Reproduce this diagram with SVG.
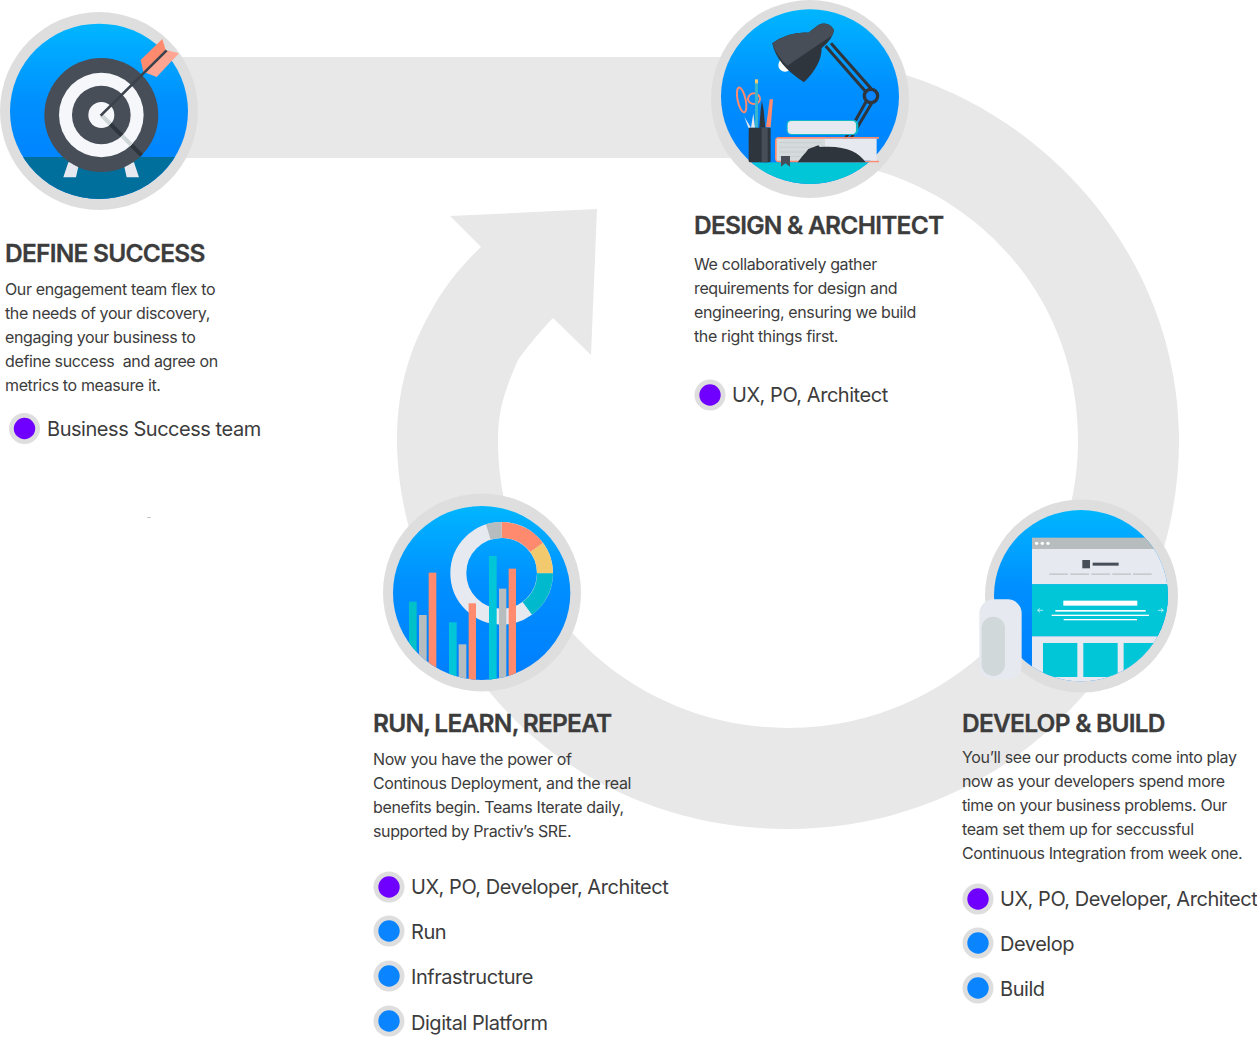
<svg xmlns="http://www.w3.org/2000/svg" width="1257" height="1047" viewBox="0 0 1257 1047">
<style>
text{font-family:Inter,"Noto Sans","Liberation Sans",sans-serif;fill:#3c3c3c}
.h{font-size:24.5px;font-weight:600;letter-spacing:-.75px;stroke:#3c3c3c;stroke-width:.3px}
.b{font-size:16px;letter-spacing:-.37px}
.l{font-size:20px;letter-spacing:-.46px}
.halo{fill:#dedede}
.p{fill:#6f00ff}
.u{fill:#0a84ff}
.d{fill:#2e353d}
.e{fill:#e6e9ef}
.t{fill:#00c6d8}
.o{fill:#ff8a6e}
.g{fill:#b7bdbf}
</style>
<defs>
<linearGradient id="sky" x1="0" y1="0" x2="0" y2="1"><stop offset="0" stop-color="#00b6ff"/><stop offset=".45" stop-color="#008fff"/><stop offset="1" stop-color="#007eff"/></linearGradient>
<clipPath id="c1"><ellipse cx="297" cy="334" rx="267" ry="263"/></clipPath>
<clipPath id="c2"><ellipse cx="315" cy="290" rx="267" ry="262"/></clipPath>
<clipPath id="c3"><ellipse cx="320" cy="309" rx="266" ry="261"/></clipPath>
<clipPath id="c4"><ellipse cx="333" cy="302" rx="261" ry="257"/></clipPath>
</defs>
<g id="connectors">
<path id="loop" fill="#e8e8e8" d="M180,57H790C1000,57 1179,230 1179,440C1179,655 1005,829 788,829C620,829 490,730 440,610C410,550 397,490 397,440C397,385 412,345 430,313C445,285 462,265 481,247L450,216L597,209L591,355L553,318C535,337 525,350 518,360C505,390 498,410 498,440C498,600 628,728 788,728C948,728 1078,600 1078,440C1078,280 950,158 790,158H180Z"/>
</g>
<g id="define-success">
<circle class="halo" cx="99" cy="111" r="99"/>
<g transform="scale(.3333)">
<ellipse cx="297" cy="334" rx="267" ry="263" fill="url(#sky)"/>
<g clip-path="url(#c1)"><rect x="0" y="471" width="600" height="140" fill="#006f9c"/></g>
<path class="e" d="M205,487H238L228,532H190ZM370,487H402L417,532H380Z"/>
<circle cx="304" cy="345" r="171" fill="#474e58"/>
<circle cx="304" cy="345" r="127" fill="#f5f7fb"/>
<circle cx="304" cy="345" r="88" fill="#474e58"/>
<circle cx="304" cy="345" r="39" fill="#f5f7fb"/>
<path d="M331,372L366,407M394,435L425,466" stroke="#2e353d" stroke-width="12"/>
<path d="M304,345L331,372M366,407L394,435" stroke="#cfd6d8" stroke-width="12"/>
<path class="o" d="M422,180L487,117L497,150L440,215L430,215Z"/>
<path fill="#ffa592" d="M497,150L537,160L470,231L430,215Z"/>
<path d="M302,347L500,151" stroke="#3c424b" stroke-width="8"/>
</g>
<text class="h" x="5" y="262">DEFINE SUCCESS</text>
<text class="b" x="5" y="295">Our engagement team flex to</text>
<text class="b" x="5" y="319">the needs of your discovery,</text>
<text class="b" x="5" y="343">engaging your business to</text>
<text class="b" x="5" y="367" xml:space="preserve">define success  and agree on</text>
<text class="b" x="5" y="391">metrics to measure it.</text>
<circle class="halo" cx="24.500" cy="428.500" r="15.500"/><circle class="p" cx="24.500" cy="428.500" r="10.700"/>
<text class="l" x="47" y="436">Business Success team</text>
<rect x="147" y="517" width="4" height="1" fill="#c8c8c8"/>
</g>
<g id="design-architect">
<circle class="halo" cx="810" cy="99" r="99"/>
<g transform="translate(705,0) scale(.3333)">
<ellipse cx="315" cy="290" rx="267" ry="262" fill="url(#sky)"/>
<g clip-path="url(#c2)"><rect x="0" y="487" width="640" height="80" class="t"/></g>
<circle cx="240" cy="195" r="20" fill="#fff"/>
<path class="d" d="M202,130Q250,95 310,98L340,75Q370,62 387,90Q385,115 350,145Q350,195 297,247Q215,195 202,130Z"/>
<path fill="#474e58" d="M202,130Q250,95 310,98L340,75Q370,62 387,90L383,105L247,197Q215,170 202,130Z"/>
<path d="M362,138L485,278M378,130L500,268M483,305L405,445M500,310L420,445" stroke="#2e353d" stroke-width="9" fill="none"/>
<circle cx="498" cy="288" r="20" fill="#0a84ff" stroke="#2e353d" stroke-width="10"/>
<rect x="245" y="360" width="215" height="45" rx="14" fill="#12b8c8"/>
<rect x="248" y="363" width="205" height="39" rx="12" class="e"/>
<path d="M222,411H522V416H360V482H522V487H222Q210,487 210,475V423Q210,411 222,411Z" fill="#ff8a6e"/>
<rect x="360" y="416" width="155" height="66" class="e"/>
<rect x="215" y="416" width="145" height="66" fill="#d5dadc"/>
<path d="M222,428H352M222,442H352M222,456H352M222,470H352" stroke="#c2c8ca" stroke-width="2"/>
<path d="M228,500V468H255V500L241,490Z" fill="#474e58"/>
<path class="d" d="M278,487C290,470 305,455 310,447L340,436L345,441C420,435 460,455 482,487Z"/>
<g fill="none" stroke="#ff8a6e" stroke-width="6"><ellipse cx="110" cy="300" rx="12" ry="38" transform="rotate(-12 110 300)"/><ellipse cx="147" cy="296" rx="18" ry="16"/></g>
<path d="M118,350L138,383H130ZM145,340L150,383H138Z" fill="#e6e9ef"/>
<path d="M150,250L154,238L159,250V383H150Z" fill="#38b6cf"/>
<rect x="150" y="238" width="9" height="12" fill="#f2c96d"/>
<path d="M171,303L176,330L181,383H163L167,330Z" class="d"/>
<path d="M183,382L194,298H204L197,382Z" class="o"/>
<rect x="131" y="383" width="66" height="104" rx="4" class="d"/>
<rect x="170" y="383" width="18" height="104" fill="#474e58"/>
</g>
<text class="h" x="694" y="234">DESIGN &amp; ARCHITECT</text>
<text class="b" x="694" y="270">We collaboratively gather</text>
<text class="b" x="694" y="294">requirements for design and</text>
<text class="b" x="694" y="318">engineering, ensuring we build</text>
<text class="b" x="694" y="342">the right things first.</text>
<circle class="halo" cx="710" cy="395" r="15.500"/><circle class="p" cx="710" cy="395" r="10.700"/>
<text class="l" x="732" y="402">UX, PO, Architect</text>
</g>
<g id="run-learn-repeat">
<circle class="halo" cx="482" cy="592.500" r="99"/>
<g transform="translate(375,490) scale(.3333)">
<ellipse cx="320" cy="309" rx="266" ry="261" fill="url(#sky)"/>
<circle cx="380" cy="250" r="130" fill="none" stroke="#e6e9ef" stroke-width="48"/>
<path fill="#ff8a6e" d="M380,96A154,154 0 0 1 504,159L466,186A106,106 0 0 0 380,144Z"/>
<path fill="#f2c96d" d="M504,159A154,154 0 0 1 534,250H486A106,106 0 0 0 466,186Z"/>
<path fill="#00b9cc" d="M534,250A154,154 0 0 1 471,374L443,336A106,106 0 0 0 486,250Z"/>
<path fill="#b7bdbf" d="M333,103A154,154 0 0 1 380,96V144A106,106 0 0 0 347,149Z"/>
<g clip-path="url(#c3)">
<rect x="102" y="335" width="23" height="260" fill="#00c0c8"/>
<rect x="132" y="375" width="23" height="220" class="g"/>
<rect x="161" y="248" width="23" height="350" class="o"/>
<rect x="222" y="397" width="23" height="200" class="t"/>
<rect x="251" y="463" width="23" height="130" class="g"/>
<rect x="281" y="340" width="22" height="260" class="o"/>
<rect x="342" y="198" width="23" height="400" class="t"/>
<rect x="372" y="296" width="22" height="300" class="g"/>
<rect x="401" y="236" width="22" height="360" class="o"/>
</g>
</g>
<text class="h" x="373" y="732" style="word-spacing:-1px">RUN, LEARN, REPEAT</text>
<text class="b" x="373" y="765">Now you have the power of</text>
<text class="b" x="373" y="789">Continous Deployment, and the real</text>
<text class="b" x="373" y="813">benefits begin. Teams Iterate daily,</text>
<text class="b" x="373" y="837">supported by Practiv’s SRE.</text>
<circle class="halo" cx="389" cy="887" r="15.500"/><circle class="p" cx="389" cy="887" r="10.700"/>
<text class="l" x="411" y="894">UX, PO, Developer, Architect</text>
<circle class="halo" cx="389" cy="931" r="15.500"/><circle class="u" cx="389" cy="931" r="10.700"/>
<text class="l" x="411" y="939">Run</text>
<circle class="halo" cx="389" cy="976" r="15.500"/><circle class="u" cx="389" cy="976" r="10.700"/>
<text class="l" x="411" y="984">Infrastructure</text>
<circle class="halo" cx="389" cy="1021" r="15.500"/><circle class="u" cx="389" cy="1021" r="10.700"/>
<text class="l" x="411" y="1030">Digital Platform</text>
</g>
<g id="develop-build">
<circle class="halo" cx="1081.500" cy="596" r="96.500"/>
<g transform="translate(970,495) scale(.3333)">
<ellipse cx="333" cy="302" rx="261" ry="257" fill="url(#sky)"/>
<g clip-path="url(#c4)">
<rect x="186" y="128" width="420" height="34" class="g"/>
<rect x="186" y="162" width="420" height="106" class="e"/>
<rect x="186" y="268" width="420" height="156" class="t"/>
<rect x="186" y="424" width="420" height="150" class="e"/>
<rect x="219" y="444" width="103" height="102" class="t"/>
<rect x="340" y="444" width="103" height="102" class="t"/>
<rect x="461" y="444" width="103" height="102" class="t"/>
</g>
<g fill="#fff"><circle cx="200" cy="145" r="5"/><circle cx="217" cy="145" r="5"/><circle cx="234" cy="145" r="5"/>
<rect x="280" y="317" width="222" height="15"/><rect x="256" y="345" width="271" height="5"/><rect x="245" y="359" width="292" height="4"/><rect x="281" y="372" width="220" height="4"/>
<path d="M203,346H219M203,346L210,340M203,346L210,352M564,346H580M580,346L573,340M580,346L573,352" stroke="#fff" stroke-width="2" fill="none"/></g>
<rect x="337" y="195" width="23" height="25" fill="#474e58"/><rect x="368" y="203" width="78" height="9" fill="#474e58"/>
<g fill="#c6ccce"><rect x="238" y="235" width="56" height="5"/><rect x="301" y="235" width="56" height="5"/><rect x="364" y="235" width="56" height="5"/><rect x="427" y="235" width="56" height="5"/><rect x="489" y="235" width="56" height="5"/></g>
<rect x="28" y="313" width="127" height="240" rx="42" class="e"/>
<rect x="35" y="365" width="70" height="178" rx="35" fill="#d0d8da"/>
</g>
<text class="h" x="962" y="732">DEVELOP &amp; BUILD</text>
<text class="b" x="962" y="763">You’ll see our products come into play</text>
<text class="b" x="962" y="787">now as your developers spend more</text>
<text class="b" x="962" y="811">time on your business problems. Our</text>
<text class="b" x="962" y="835">team set them up for seccussful</text>
<text class="b" x="962" y="859">Continuous Integration from week one.</text>
<circle class="halo" cx="978" cy="899" r="15.500"/><circle class="p" cx="978" cy="899" r="10.700"/>
<text class="l" x="1000" y="906">UX, PO, Developer, Architect</text>
<circle class="halo" cx="978" cy="943" r="15.500"/><circle class="u" cx="978" cy="943" r="10.700"/>
<text class="l" x="1000" y="951">Develop</text>
<circle class="halo" cx="978" cy="988" r="15.500"/><circle class="u" cx="978" cy="988" r="10.700"/>
<text class="l" x="1000" y="996">Build</text>
</g>
</svg>
